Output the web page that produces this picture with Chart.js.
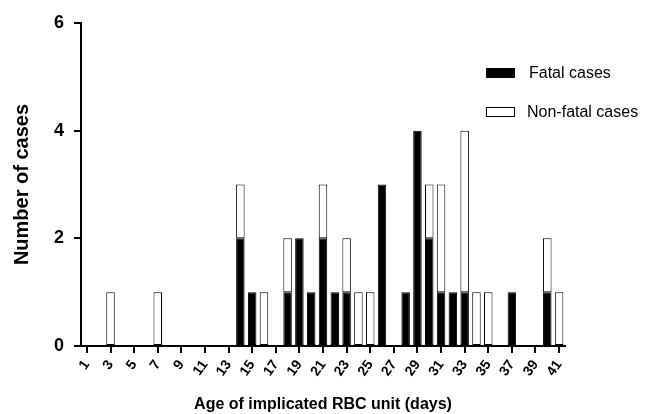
<!DOCTYPE html>
<html>
<head>
<meta charset="utf-8">
<script src="https://cdn.jsdelivr.net/npm/chart.js"></script>
<style>
  body { margin: 0; background: #fff; }
  #wrap { width: 646px; height: 414px; position: relative; }
</style>
</head>
<body>
<div id="wrap"><canvas id="chart"></canvas></div>
<script>
// age of RBC unit, days 1..41
const days = [];
for (let d = 1; d <= 41; d++) days.push(String(d));

const fatalCases = [0,0,0,0,0,0,0,0,0,0,0,0,0,2,1,0,0,1,2,1,2,1,1,0,0,3,0,1,4,2,1,1,1,0,0,0,1,0,0,1,0];
const nonFatalCases = [0,0,1,0,0,0,1,0,0,0,0,0,0,1,0,1,0,1,0,0,1,0,1,1,1,0,0,0,0,1,2,0,3,1,1,0,0,0,0,1,1];

const yTicks = [0, 2, 4, 6];

// legend drawn in the top right, like the original figure
const legendPlugin = {
  id: 'cornerLegend',
  afterDraw(chart) {
    const ctx = chart.ctx;
    const items = chart.data.datasets;
    ctx.save();
    ctx.font = '16px "Liberation Sans", Arial, sans-serif';
    ctx.textBaseline = 'middle';
    items.forEach((ds, i) => {
      const y = 73 + i * 39;
      ctx.fillStyle = ds.backgroundColor;
      ctx.fillRect(486.5, y - 4.5, 28, 9);
      ctx.lineWidth = 1;
      ctx.strokeStyle = '#000';
      ctx.strokeRect(486.5, y - 4.5, 28, 9);
      ctx.fillStyle = '#000';
      ctx.fillText(ds.label, 529 - i * 2, y + 1);
    });
    ctx.restore();
  }
};

// no outline for empty bars
const edge = c => (c.raw ? 1 : 0);

new Chart(document.getElementById('chart'), {
  type: 'bar',
  data: {
    labels: days,
    datasets: [
      {
        label: 'Fatal cases',
        data: fatalCases,
        backgroundColor: '#000000',
        borderColor: '#000000',
        borderWidth: edge,
        borderSkipped: false
      },
      {
        label: 'Non-fatal cases',
        data: nonFatalCases,
        backgroundColor: '#ffffff',
        borderColor: '#000000',
        borderWidth: edge,
        borderSkipped: false
      }
    ]
  },
  options: {
    responsive: true,
    maintainAspectRatio: false,
    animation: false,
    barPercentage: 0.72,
    categoryPercentage: 1,
    layout: { padding: { top: 23, right: 81, left: 0, bottom: 0 } },
    plugins: {
      legend: { display: false },
      tooltip: { enabled: false }
    },
    scales: {
      x: {
        stacked: true,
        offset: true,
        afterFit: s => { s.height = 68; },
        border: { display: true, color: '#000', width: 2 },
        grid: {
          offset: false,
          drawOnChartArea: false,
          drawTicks: true,
          tickLength: 7,
          lineWidth: 2,
          tickColor: c => (c.index % 2 === 0 ? '#000' : 'rgba(0,0,0,0)')
        },
        ticks: {
          autoSkip: false,
          minRotation: 55,
          maxRotation: 55,
          padding: 4,
          color: '#000',
          font: { family: '"Liberation Sans", Arial, sans-serif', size: 14, weight: 'bold' },
          callback: function (v, i) { return i % 2 === 0 ? this.getLabelForValue(v) : ''; }
        },
        title: {
          display: true,
          text: 'Age of implicated RBC unit (days)',
          color: '#000',
          padding: { top: 0, bottom: 0 },
          font: { family: '"Liberation Sans", Arial, sans-serif', size: 16, weight: 'bold' }
        }
      },
      y: {
        stacked: true,
        min: 0,
        max: 6,
        afterFit: s => { s.width = 81; },
        afterBuildTicks: s => { s.ticks = yTicks.map(v => ({ value: v })); },
        border: { display: true, color: '#000', width: 2 },
        grid: {
          drawOnChartArea: false,
          drawTicks: true,
          tickLength: 7,
          lineWidth: 2,
          tickColor: '#000'
        },
        ticks: {
          padding: 10,
          color: '#000',
          font: { family: '"Liberation Sans", Arial, sans-serif', size: 18, weight: 'bold' }
        },
        title: {
          display: true,
          text: 'Number of cases',
          color: '#000',
          padding: { top: 10, bottom: 0 },
          font: { family: '"Liberation Sans", Arial, sans-serif', size: 20, weight: 'bold' }
        }
      }
    }
  },
  plugins: [legendPlugin]
});
</script>
</body>
</html>
